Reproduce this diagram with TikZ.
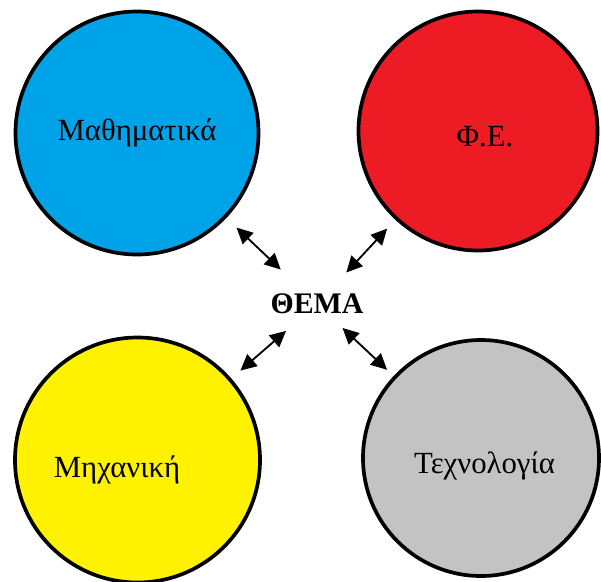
\documentclass[tikz,border=0pt]{standalone}
\usepackage{fontspec}
\setmainfont{Liberation Serif}
\usepackage{xcolor}
\usetikzlibrary{positioning, shapes, arrows.meta}

\definecolor{mathblue}{RGB}{0,162,232}
\definecolor{physred}{RGB}{237,28,36}
\definecolor{mechyellow}{RGB}{255,242,0}
\definecolor{techgray}{RGB}{195,195,195}

\begin{document}
\begin{tikzpicture}[
    % subject circles
    subject/.style={
        circle,
        draw=black,
        line width=2.1pt,
        minimum size=4.8cm,
        inner sep=0pt
    },
    subjtext/.style={font=\fontsize{17.5}{20}\selectfont},
    themetext/.style={font=\fontsize{17}{20}\selectfont\bfseries},
    link/.style={
        {Triangle[length=3.2mm,width=3.1mm]}-{Triangle[length=3.2mm,width=3.1mm]},
        line width=1.05pt
    }
]
\useasboundingbox (0,0) rectangle (12.02,11.62);

% Central theme
\node[themetext] (theme) at (6.34,5.54) {ΘΕΜΑ};

% Subject circles
\node[subject, fill=mathblue, minimum size=4.86cm,
      label={[subjtext]center:Μαθηματικά}] (math) at (2.74,8.96) {};
\node[subject, fill=physred, minimum size=4.78cm,
      label={[subjtext, xshift=0.14cm, yshift=-0.12cm]center:Φ.Ε.}] (phys) at (9.56,9.00) {};
\node[subject, fill=mechyellow, minimum size=4.9cm,
      label={[subjtext, xshift=-0.41cm, yshift=-0.2cm]center:Μηχανική}] (mech) at (2.75,2.42) {};
\node[subject, fill=techgray, minimum size=4.72cm,
      label={[subjtext, xshift=0.07cm, yshift=-0.16cm]center:Τεχνολογία}] (tech) at (9.62,2.46) {};

% Two-way links
\draw[link, shorten <=1.0cm, shorten >=0.28cm] (theme.center) -- (math);
\draw[link, shorten <=0.86cm, shorten >=0.24cm] (theme.center) -- (phys);
\draw[link, shorten <=0.82cm, shorten >=0.24cm] (theme.center) -- (mech);
\draw[link, shorten <=0.70cm, shorten >=0.18cm] (theme.center) -- (tech);
\end{tikzpicture}
\end{document}
